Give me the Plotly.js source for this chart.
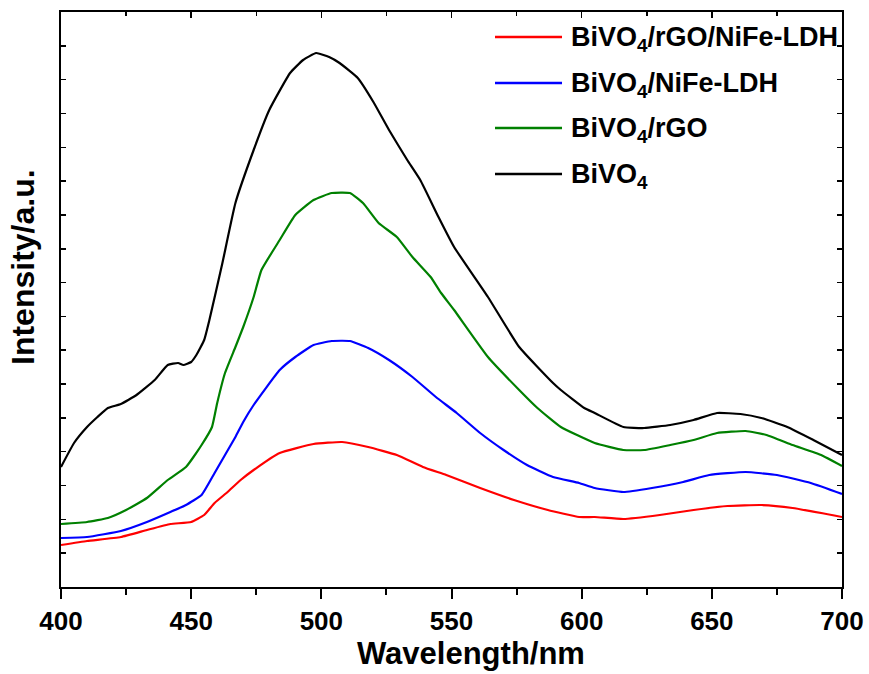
<!DOCTYPE html>
<html><head><meta charset="utf-8">
<script src="https://cdn.plot.ly/plotly-3.0.1.min.js"></script>
<style>html,body{margin:0;padding:0;background:#fff}#chart{width:869px;height:674px}</style>
</head><body><div id="chart"></div>
<script>
// Series names
const seriesNames = ["BiVO<sub>4</sub>/rGO/NiFe-LDH", "BiVO<sub>4</sub>/NiFe-LDH", "BiVO<sub>4</sub>/rGO", "BiVO<sub>4</sub>"];
const seriesColors = ["#ff0000", "#0000ff", "#008000", "#000000"];

// BiVO4 (black)
const wl_bivo4 = [400,405,410,414,418,423,429,436,441,445,447,450,452,455,457,462,467,474,480,488,493,498,503,507,514,520,526,533,538,545,551,564,576,589,592,601,605,616,624,634,643,652,661,669,679,689,700];
const int_bivo4 = [120,144,160,170,179,183,192,207,222,224,222,225,232,247,267,324,384,437,477,514,527,534,530,524,509,485,457,427,407,370,340,290,240,204,197,179,174,160,159,162,167,174,173,169,160,147,132];

// BiVO4/rGO (green)
const wl_rgo = [400,410,418,425,433,441,448,454,458,460,463,467,470,474,477,484,490,497,504,511,516,522,529,535,542,546,551,564,576,583,592,605,616,624,634,643,652,663,671,681,692,700];
const int_rgo = [63,65,69,77,89,107,120,142,160,184,214,240,260,290,317,347,372,387,394,394,384,364,350,330,310,294,277,230,197,179,160,144,137,137,142,147,154,156,152,142,132,121];

// BiVO4/NiFe-LDH (blue)
const wl_ldh = [400,410,423,433,442,448,454,459,463,467,470,474,484,490,497,504,511,518,526,535,544,552,561,570,579,589,599,605,616,627,639,649,663,675,688,700];
const int_ldh = [49,50,56,65,75,82,92,114,132,150,165,182,217,230,242,246,246,239,227,210,190,174,154,137,122,110,104,99,95,99,105,112,115,112,104,93];

// BiVO4/rGO/NiFe-LDH (red)
const wl_rgo_ldh = [400,410,423,433,442,450,455,459,464,469,474,484,497,508,518,529,539,548,561,574,587,599,605,616,630,643,656,669,681,700];
const int_rgo_ldh = [42,46,50,57,63,65,72,84,95,107,117,134,143,145,140,132,120,112,99,87,77,70,70,68,72,77,81,82,79,70];

const xTickVals = [400,450,500,550,600,650,700];
const xTickText = ["400","450","500","550","600","650","700"];

const FONT = "'Liberation Sans', Arial, sans-serif";

const xs = [wl_rgo_ldh, wl_ldh, wl_rgo, wl_bivo4];
const ys = [int_rgo_ldh, int_ldh, int_rgo, int_bivo4];

const traces = xs.map((x, i) => ({
  x: x, y: ys[i], type: 'scatter', mode: 'lines', name: seriesNames[i],
  line: {color: seriesColors[i], width: 2.2, shape: 'spline', smoothing: 0.4}, showlegend: false
})).reverse();

// Manual legend
const legY = [0.9565, 0.8765, 0.7983, 0.7183];
const shapes = [];
const annotations = [];
seriesNames.forEach((n, i) => {
  shapes.push({type: 'line', xref: 'paper', yref: 'paper', x0: 0.5557, x1: 0.6415, y0: legY[i], y1: legY[i],
    line: {color: seriesColors[i], width: 2.5}});
  annotations.push({xref: 'paper', yref: 'paper', x: 0.6504, y: legY[i] - 0.004, xanchor: 'left', yanchor: 'middle',
    text: '<b>' + n + '</b>', showarrow: false, font: {family: FONT, size: 27, color: '#000'}});
});
annotations.push({xref: 'paper', yref: 'paper', x: 0.5256, y: -0.1148, xanchor: 'center', yanchor: 'middle',
  text: '<b>Wavelength/nm</b>', showarrow: false, font: {family: FONT, size: 31, color: '#000'}});
annotations.push({xref: 'paper', yref: 'paper', x: -0.0487, y: 0.5565, xanchor: 'center', yanchor: 'middle', textangle: -90,
  text: '<b>Intensity/a.u.</b>', showarrow: false, font: {family: FONT, size: 32, color: '#000'}});

const layout = {
  width: 869, height: 674,
  margin: {l: 61, r: 27, t: 12, b: 87},
  paper_bgcolor: '#fff', plot_bgcolor: '#fff',
  font: {family: FONT, color: '#000'},
  xaxis: {
    range: [400, 700], tickvals: xTickVals, ticktext: xTickText,
    ticks: 'outside', ticklen: 10, tickwidth: 2, tickcolor: '#000',
    minor: {dtick: 25, tick0: 400, ticks: 'outside', ticklen: 6, tickwidth: 2, tickcolor: '#000', showgrid: false},
    showline: true, linewidth: 2, linecolor: '#000', mirror: true,
    showgrid: false, zeroline: false,
    tickfont: {family: FONT, size: 26, color: '#000', weight: 'bold'}
  },
  xaxis2: {
    overlaying: 'x', side: 'top', anchor: 'y', range: [400, 700],
    tickvals: xTickVals, ticks: 'inside', ticklen: 6, tickwidth: 1.5, tickcolor: '#000',
    minor: {dtick: 25, tick0: 400, ticks: 'inside', ticklen: 4, tickwidth: 1.5, tickcolor: '#000', showgrid: false},
    showticklabels: false, showgrid: false, zeroline: false, showline: false
  },
  yaxis: {
    range: [0, 575], tick0: 0, dtick: 575 / 17,
    ticks: 'inside', ticklen: 5, tickwidth: 1.5, tickcolor: '#000',
    showticklabels: false, showline: true, linewidth: 2, linecolor: '#000', mirror: 'ticks',
    showgrid: false, zeroline: false
  },
  shapes: shapes,
  annotations: annotations
};

const topTrace = {x: [400, 700], y: [-50, -50], xaxis: 'x2', yaxis: 'y', type: 'scatter', mode: 'lines',
  line: {color: 'rgba(0,0,0,0)'}, showlegend: false, hoverinfo: 'skip'};
Plotly.newPlot('chart', traces.concat([topTrace]), layout, {displayModeBar: false, staticPlot: true});
</script></body></html>
